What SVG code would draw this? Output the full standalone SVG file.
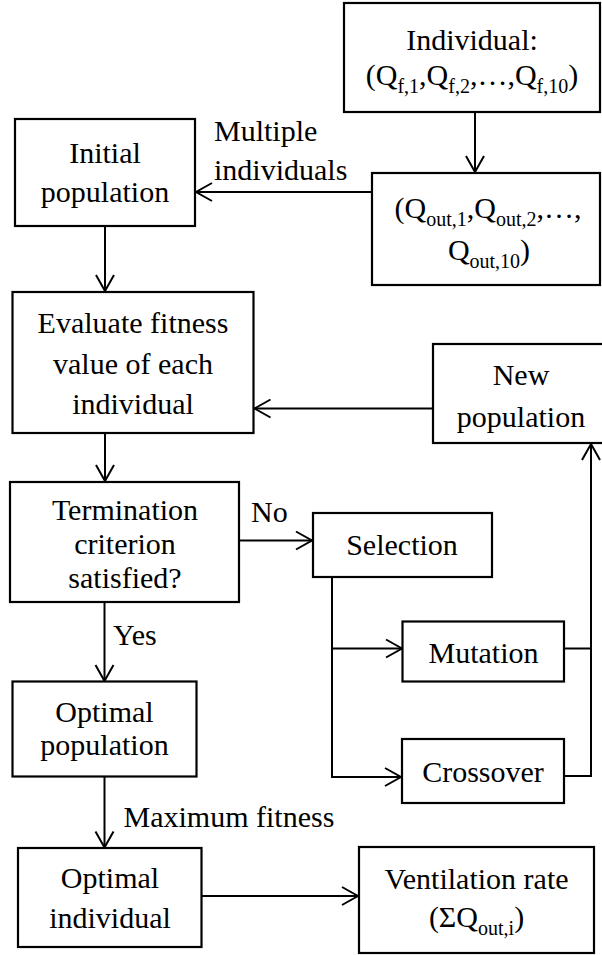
<svg xmlns="http://www.w3.org/2000/svg" width="602" height="955" viewBox="0 0 602 955">
<style>
  .box { fill: #fff; stroke: #000; stroke-width: 2.2; }
  .t { font-family: "Liberation Serif", "Times New Roman", serif; font-size: 30px; fill: #000; }
  .m { text-anchor: middle; }
  .s { font-size: 20px; }
  .ln { fill: none; stroke: #000; stroke-width: 2; }
</style>
<defs>
  <marker id="ah" markerUnits="userSpaceOnUse" markerWidth="20" markerHeight="22" viewBox="-18 -11 20 22" refX="0" refY="0" orient="auto">
    <path d="M -16 -9 L 0 0 L -16 9" fill="none" stroke="#000" stroke-width="2"/>
  </marker>
</defs>
<rect x="0" y="0" width="602" height="955" fill="#fff"/>
<g id="connectors">
  <path class="ln" d="M 475 112 V 172" marker-end="url(#ah)"/>
  <path class="ln" d="M 372 192 H 196" marker-end="url(#ah)"/>
  <path class="ln" d="M 105 226 V 291" marker-end="url(#ah)"/>
  <path class="ln" d="M 433 408.5 H 254.5" marker-end="url(#ah)"/>
  <path class="ln" d="M 105 433 V 481" marker-end="url(#ah)"/>
  <path class="ln" d="M 239 540.5 H 312" marker-end="url(#ah)"/>
  <path class="ln" d="M 104.5 602 V 681" marker-end="url(#ah)"/>
  <path class="ln" d="M 332 577 V 777 H 401" marker-end="url(#ah)"/>
  <path class="ln" d="M 332 648.5 H 402" marker-end="url(#ah)"/>
  <path class="ln" d="M 562 648.5 H 591"/>
  <path class="ln" d="M 564 776 H 591 V 444" marker-end="url(#ah)"/>
  <path class="ln" d="M 104.5 777 V 847.5" marker-end="url(#ah)"/>
  <path class="ln" d="M 201.5 896 H 358" marker-end="url(#ah)"/>
</g>
<g id="labels">
  <text class="t" x="214" y="141">Multiple</text>
  <text class="t" x="214" y="180">individuals</text>
  <text class="t" x="251" y="522">No</text>
  <text class="t" x="113" y="645">Yes</text>
  <text class="t" x="123.5" y="826.5">Maximum fitness</text>
</g>
<g id="individual">
  <rect class="box" x="344" y="3" width="256" height="109"/>
  <text class="t m" x="472" y="50">Individual:</text>
  <text class="t m" x="472" y="85">(Q<tspan class="s" dy="8">f,1</tspan><tspan dy="-8">,Q</tspan><tspan class="s" dy="8">f,2</tspan><tspan dy="-8">,…,Q</tspan><tspan class="s" dy="8">f,10</tspan><tspan dy="-8">)</tspan></text>
</g>
<g id="qout">
  <rect class="box" x="372" y="173" width="228" height="112"/>
  <text class="t m" x="488" y="218">(Q<tspan class="s" dy="8">out,1</tspan><tspan dy="-8">,Q</tspan><tspan class="s" dy="8">out,2</tspan><tspan dy="-8">,…,</tspan></text>
  <text class="t m" x="489" y="260">Q<tspan class="s" dy="8">out,10</tspan><tspan dy="-8">)</tspan></text>
</g>
<g id="initial">
  <rect class="box" x="15" y="119" width="180" height="107"/>
  <text class="t m" x="105" y="162.5">Initial</text>
  <text class="t m" x="105" y="201.5">population</text>
</g>
<g id="evaluate">
  <rect class="box" x="12.5" y="292" width="241" height="141"/>
  <text class="t m" x="133" y="333">Evaluate fitness</text>
  <text class="t m" x="133" y="374">value of each</text>
  <text class="t m" x="133" y="414">individual</text>
</g>
<g id="newpop">
  <rect class="box" x="433" y="344" width="176" height="99"/>
  <text class="t m" x="521" y="385">New</text>
  <text class="t m" x="521" y="427">population</text>
</g>
<g id="termination">
  <rect class="box" x="10" y="482" width="229" height="120"/>
  <text class="t m" x="125" y="520">Termination</text>
  <text class="t m" x="125" y="554">criterion</text>
  <text class="t m" x="125" y="588">satisfied?</text>
</g>
<g id="selection">
  <rect class="box" x="313" y="513" width="179" height="64"/>
  <text class="t m" x="402" y="555">Selection</text>
</g>
<g id="mutation">
  <rect class="box" x="402.5" y="621.5" width="161.5" height="60"/>
  <text class="t m" x="483.5" y="662.5">Mutation</text>
</g>
<g id="crossover">
  <rect class="box" x="402" y="739" width="162" height="64"/>
  <text class="t m" x="483" y="781.5">Crossover</text>
</g>
<g id="optpop">
  <rect class="box" x="12.5" y="681.5" width="184" height="95"/>
  <text class="t m" x="104.5" y="721.5">Optimal</text>
  <text class="t m" x="104.5" y="755">population</text>
</g>
<g id="optind">
  <rect class="box" x="18" y="848" width="183.5" height="99"/>
  <text class="t m" x="110" y="888">Optimal</text>
  <text class="t m" x="110" y="928">individual</text>
</g>
<g id="ventilation">
  <rect class="box" x="359" y="847" width="235" height="106"/>
  <text class="t m" x="476.5" y="889">Ventilation rate</text>
  <text class="t m" x="476.5" y="927">(ΣQ<tspan class="s" dy="8">out,i</tspan><tspan dy="-8">)</tspan></text>
</g>
</svg>
